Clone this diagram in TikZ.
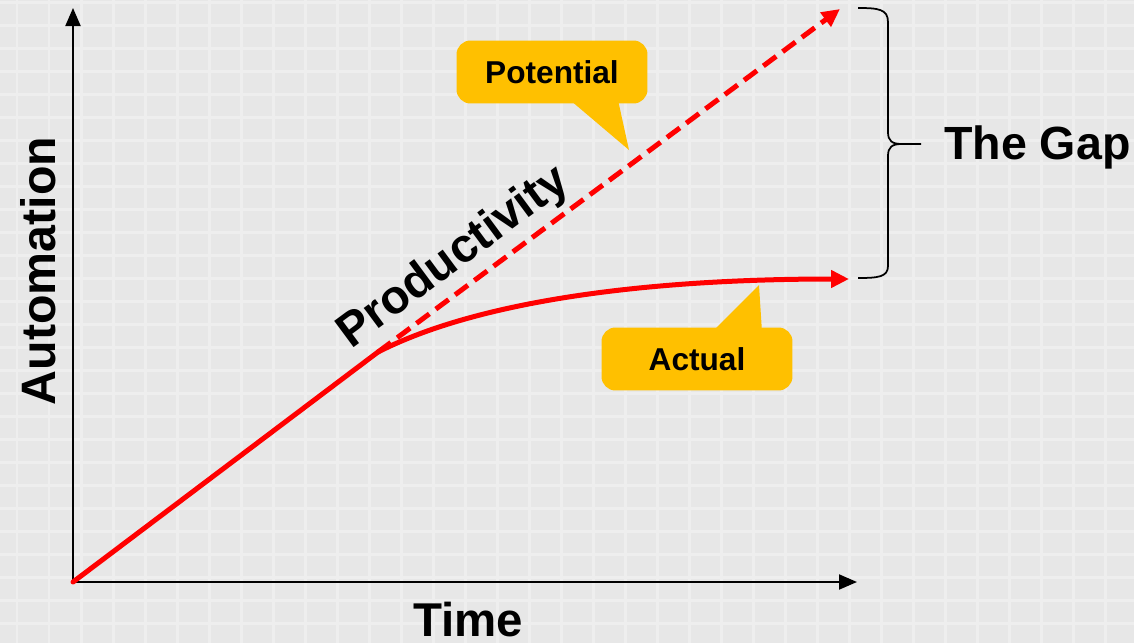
\documentclass[tikz,border=0pt]{standalone}
\usepackage{fontspec}
\setmainfont{Liberation Sans}
\usetikzlibrary{arrows.meta}
\definecolor{bg}{HTML}{E7E7E7}
\definecolor{gridc}{HTML}{EEEEEE}
\definecolor{callc}{HTML}{FFC000}
\definecolor{redc}{HTML}{FF0000}
\begin{document}
\begin{tikzpicture}[x=0.02cm,y=-0.02cm,
  axis/.style={line width=0.04cm,-{Triangle[length=0.36cm,width=0.3cm]}},
  redline/.style={redc,line width=0.1cm,-{Triangle[length=0.36cm,width=0.34cm]}},
  callout/.style={fill=callc,rounded corners=0.28cm,minimum width=3.82cm,minimum height=1.26cm,
     font=\fontsize{18}{21}\selectfont\bfseries,text=black},
  biglabel/.style={font=\fontsize{27}{31}\selectfont\bfseries,text=black},
  bracestyle/.style={line width=0.035cm,black}]
% background
\fill[bg] (0,0) rectangle (1134,643);
\useasboundingbox (0,0) rectangle (1134,643);
\foreach \x in {17,49,...,1134} \draw[gridc,line width=0.06cm] (\x,0) -- (\x,643);
\foreach \y in {2,25,...,643} \draw[gridc,line width=0.06cm] (0,\y) -- (1134,\y);
% axes
\coordinate (O) at (73,582);
\coordinate (ytop) at (73,8);
\coordinate (xend) at (857,582);
\draw[axis] (O) -- (ytop);
\draw[axis] (O) -- (xend);
% lines
\coordinate (knee) at (378,352);
\coordinate (potend) at (840,9);
\coordinate (actend) at (849,279);
\draw[redline,dash pattern=on 0.32cm off 0.16cm] (knee) -- (potend);
\draw[redc,line width=0.1cm,line cap=round] (O) -- (knee);
\draw[redline] (knee) .. controls (480,300) and (650,279) .. (actend);
% callouts
\node[callout] (pot) at (552,72) {Potential};
\coordinate (pottip) at (629,150);
\fill[callc] (570,100) -- (pottip) -- (618,100) -- cycle;
\node[callout] (act) at (697,359) {Actual};
\coordinate (acttip) at (759,285);
\fill[callc] (712,332) -- (acttip) -- (762,332) -- cycle;
% brace
\draw[bracestyle] (858,8) .. controls (878,8) and (888,9) .. (888,22) -- (888,132)
  .. controls (888,141) and (892,144) .. (902,144) -- (921,144)
  (902,144) .. controls (892,144) and (888,147) .. (888,156) -- (888,266)
  .. controls (888,277) and (878,278) .. (858,278);
\node[anchor=west,font=\fontsize{26.5}{30}\selectfont\bfseries] (gap) at (938,147) {The Gap};
% axis labels
\node[biglabel,rotate=90,font=\fontsize{27.5}{31}\selectfont\bfseries] (autom) at (38,271) {Automation};
\node[biglabel] (time) at (468,620) {Time};
\node[biglabel,rotate=36.5] (prod) at (454,258) {Productivity};
\end{tikzpicture}
\end{document}
